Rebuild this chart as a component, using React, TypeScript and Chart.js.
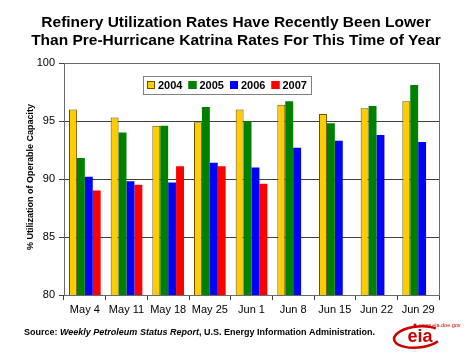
import React, { useEffect, useRef } from "react";
import { Chart, registerables } from "chart.js";

Chart.register(...registerables);

const categories = ["May 4", "May 11", "May 18", "May 25", "Jun 1", "Jun 8", "Jun 15", "Jun 22", "Jun 29"];
const years = ["2004", "2005", "2006", "2007"];
const values2004 = [96.0, 95.3, 94.6, 94.9, 96.0, 96.4, 95.6, 96.1, 96.7];
const values2005 = [91.8, 94.0, 94.6, 96.2, 95.0, 96.7, 94.8, 96.3, 98.1];
const values2006 = [90.2, 89.8, 89.7, 91.4, 91.0, 92.7, 93.3, 93.8, 93.2];
const values2007 = [89.0, 89.5, 91.1, 91.1, 89.6, null, null, null, null];
const yTicks = [80, 85, 90, 95, 100];
const titleLines = [
  "Refinery Utilization Rates Have Recently Been Lower",
  "Than Pre-Hurricane Katrina Rates For This Time of Year",
];
const yTitle = "% Utilization of Operable Capacity";
const sourceParts = [
  { text: "Source: ", italic: false },
  { text: "Weekly Petroleum Status Report", italic: true },
  { text: ", U.S. Energy Information Administration.", italic: false },
];
const logoText = "eia";
const logoUrl = "www.eia.doe.gov";

const colors = ["#FFCC00", "#008000", "#0000FF", "#FF0000"];
const borders = ["#6b5200", "#008000", "#0000FF", "#FF0000"];
const FONT = "Arial, 'Liberation Sans', Helvetica, sans-serif";

const decorPlugin = {
  id: "decor",
  afterDraw(chart: any) {
    const ctx = chart.ctx;
    const ca = chart.chartArea;
    ctx.save();
    // frame
    ctx.strokeStyle = "#6a6a6a";
    ctx.lineWidth = 1;
    ctx.strokeRect(Math.round(ca.left) + 0.5, Math.round(ca.top) + 0.5, Math.round(ca.right - ca.left), Math.round(ca.bottom - ca.top));

    // title
    ctx.fillStyle = "#000";
    ctx.textAlign = "center";
    ctx.textBaseline = "middle";
    ctx.font = `bold 15.5px ${FONT}`;
    ctx.fillText(titleLines[0], 236, 23);
    ctx.fillText(titleLines[1], 236, 41);

    // y title
    ctx.save();
    ctx.translate(31, 177);
    ctx.rotate(-Math.PI / 2);
    ctx.font = `bold 9px ${FONT}`;
    ctx.fillText(yTitle, 0, 0);
    ctx.restore();

    // legend
    const lx = ca.left + 79;
    const ly = ca.top + 13;
    const lw = 168;
    const lh = 18;
    ctx.fillStyle = "#fff";
    ctx.fillRect(lx, ly, lw, lh);
    ctx.strokeStyle = "#808080";
    ctx.strokeRect(lx + 0.5, ly + 0.5, lw, lh);
    ctx.font = `bold 11px ${FONT}`;
    ctx.textAlign = "left";
    for (let i = 0; i < years.length; i++) {
      const ix = lx + 4 + i * 41.5;
      ctx.fillStyle = colors[i];
      ctx.fillRect(ix, ly + 5, 8, 8);
      ctx.strokeStyle = borders[i];
      ctx.strokeRect(ix + 0.5, ly + 5.5, 7, 7);
      ctx.fillStyle = "#000";
      ctx.fillText(years[i], ix + 11, ly + lh / 2 + 1);
    }

    // source
    let sx = 24;
    const sy = 333;
    ctx.fillStyle = "#000";
    for (const p of sourceParts) {
      ctx.font = `${p.italic ? "italic " : ""}bold 9px ${FONT}`;
      ctx.fillText(p.text, sx, sy);
      sx += ctx.measureText(p.text).width;
    }

    // eia logo
    ctx.strokeStyle = "#cc0000";
    ctx.lineWidth = 2.5;
    ctx.beginPath();
    ctx.ellipse(418, 337, 24, 10.5, -0.1, Math.PI * 0.2, Math.PI * 1.78);
    ctx.stroke();
    ctx.fillStyle = "#cc0000";
    ctx.beginPath();
    ctx.arc(415, 325, 1.5, 0, Math.PI * 2);
    ctx.fill();
    ctx.font = `bold 18px ${FONT}`;
    ctx.textAlign = "center";
    ctx.fillText(logoText, 420, 337);
    ctx.font = `5.5px ${FONT}`;
    ctx.textAlign = "left";
    ctx.fillText(logoUrl, 419, 325);
    ctx.restore();
  },
};

export default function App() {
  const ref = useRef<HTMLCanvasElement>(null);
  useEffect(() => {
    document.body.style.margin = "0";
    const seriesValues = [values2004, values2005, values2006, values2007];
    const chart = new Chart(ref.current!, {
      type: "bar",
      data: {
        labels: categories,
        datasets: years.map((y, i) => ({
          label: y,
          data: seriesValues[i],
          backgroundColor: colors[i],
          borderColor: borders[i],
          borderWidth: i === 0 ? 1 : 0,
          categoryPercentage: 0.76,
          barPercentage: 1.0,
        })),
      },
      options: {
        responsive: false,
        animation: false,
        layout: { padding: { left: 0, right: 33, top: 63, bottom: 36 } },
        plugins: { legend: { display: false }, tooltip: { enabled: false }, title: { display: false } },
        scales: {
          x: {
            afterFit: (s: any) => { s.height = 30; },
            grid: { drawOnChartArea: false, drawTicks: true, tickLength: 5, color: "#404040", offset: true },
            border: { color: "#404040" },
            ticks: { color: "#000", padding: 3, font: { family: FONT, size: 11 }, maxRotation: 0 },
          },
          y: {
            min: 80,
            max: 100,
            afterFit: (s: any) => { s.width = 64; },
            afterBuildTicks: (s: any) => { s.ticks = yTicks.map((v) => ({ value: v })); },
            grid: { color: "#404040", tickLength: 5 },
            border: { color: "#404040" },
            ticks: { color: "#000", padding: 4, font: { family: FONT, size: 11 } },
          },
        },
      },
      plugins: [decorPlugin],
    });
    return () => chart.destroy();
  }, []);
  return <canvas ref={ref} width={472} height={361} style={{ display: "block" }} />;
}
